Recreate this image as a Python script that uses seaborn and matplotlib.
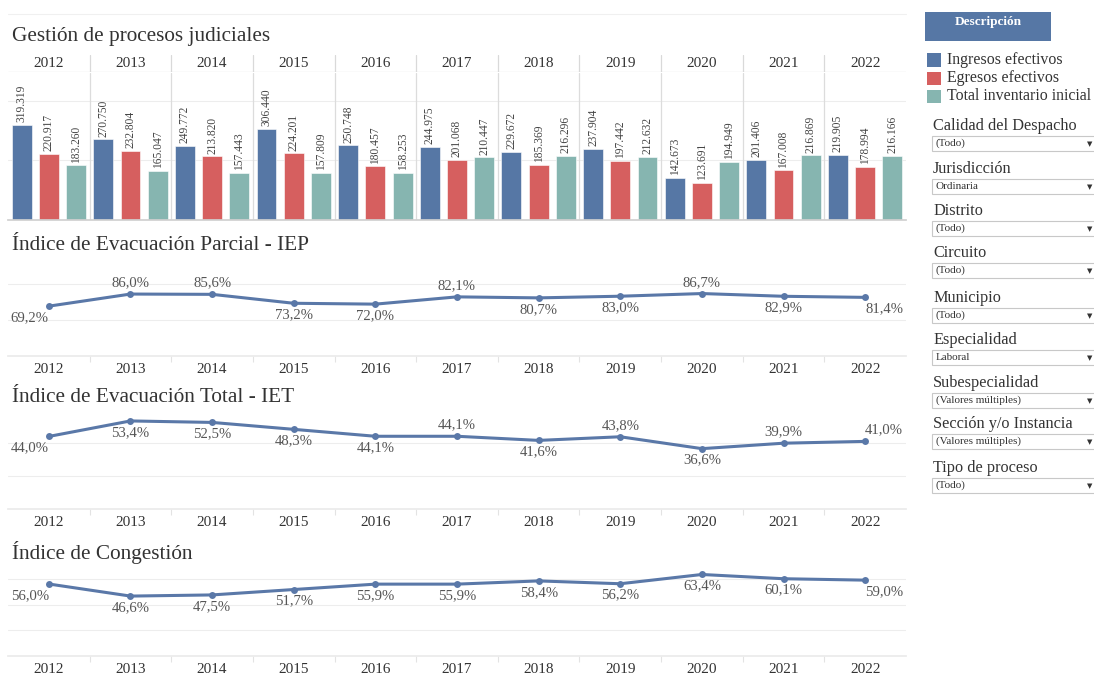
import numpy as np
import pandas as pd
import matplotlib
matplotlib.use('Agg')
import matplotlib.pyplot as plt
from matplotlib.patches import Rectangle
import seaborn as sns

anios = [2012, 2013, 2014, 2015, 2016, 2017, 2018, 2019, 2020, 2021, 2022]
series = ['Ingresos efectivos', 'Egresos efectivos', 'Total inventario inicial']
ingresos = [319319, 270750, 249772, 306440, 250748, 244975, 229672, 237904, 142673, 201406, 219905]
egresos = [220917, 232804, 213820, 224201, 180457, 201068, 185369, 197442, 123691, 167008, 178994]
inventario = [183260, 165047, 157443, 157809, 158253, 210447, 216296, 212632, 194949, 216869, 216166]

iep = [69.2, 86.0, 85.6, 73.2, 72.0, 82.1, 80.7, 83.0, 86.7, 82.9, 81.4]
iet = [44.0, 53.4, 52.5, 48.3, 44.1, 44.1, 41.6, 43.8, 36.6, 39.9, 41.0]
ic = [56.0, 46.6, 47.5, 51.7, 55.9, 55.9, 58.4, 56.2, 63.4, 60.1, 59.0]

# ubicacion de etiquetas: 'a' arriba, 'b' abajo
iep_pos = ['b', 'a', 'a', 'b', 'b', 'a', 'b', 'b', 'a', 'b', 'b']
iet_pos = ['b', 'b', 'b', 'b', 'b', 'a', 'b', 'a', 'b', 'a', 'a']
ic_pos = ['b'] * 11

filtros = ['Calidad del Despacho', 'Jurisdicción', 'Distrito', 'Circuito', 'Municipio',
           'Especialidad', 'Subespecialidad', 'Sección y/o Instancia', 'Tipo de proceso']
filtros_valor = ['(Todo)', 'Ordinaria', '(Todo)', '(Todo)', '(Todo)',
                 'Laboral', '(Valores múltiples)', '(Valores múltiples)', '(Todo)']

colores = ['#5677a5', '#d65f5f', '#86b5b0']
color_linea = '#5a78a8'
gris_txt = '#333333'
gris_lbl = '#555555'
gris_grid = '#ededed'

sns.set_theme(style='white')
plt.rcParams['font.family'] = ['Liberation Serif', 'DejaVu Serif']

W, H = 1094, 677
fig = plt.figure(figsize=(W / 100, H / 100), dpi=100)


def fx(px):
    return px / W


def fy(py):
    return 1 - py / H


def axes_px(x0, y0, x1, y1):
    return fig.add_axes([fx(x0), fy(y1), fx(x1) - fx(x0), (y1 - y0) / H])


def miles(v):
    return f'{v:,}'.replace(',', '.')


def pct(v):
    return f'{v:.1f}%'.replace('.', ',')


X0, X1 = 8, 906

# linea tenue superior
fig.add_artist(plt.Line2D([fx(X0), fx(X1)], [fy(14), fy(14)], color='#f0f0f0', lw=0.8))

# ---- Gestion de procesos judiciales (barras) ----
fig.text(fx(12), fy(37), 'Gestión de procesos judiciales', fontsize=15.3,
         color=gris_txt, va='center', ha='left')

hdr = axes_px(X0, 55, X1, 72)
hdr.set_xlim(-0.5, len(anios) - 0.5)
hdr.set_ylim(0, 1)
hdr.axis('off')
for i, a in enumerate(anios):
    hdr.text(i, 0.5, str(a), ha='center', va='center', fontsize=11, color=gris_txt)
for i in range(1, len(anios)):
    hdr.axvline(i - 0.5, color='#d9d9d9', lw=0.9)
hdr.axhline(0, color='#d9d9d9', lw=0.9)

df = pd.DataFrame({
    'anio': anios * 3,
    'serie': [series[0]] * 11 + [series[1]] * 11 + [series[2]] * 11,
    'valor': ingresos + egresos + inventario,
})
ax = axes_px(X0, 73, X1, 220)
sns.barplot(data=df, x='anio', y='valor', hue='serie', hue_order=series,
            palette=colores, saturation=1, width=1.0, gap=0.27, ax=ax, legend=False,
            edgecolor='white', linewidth=0.4)
ax.set_ylim(0, 494000)
ax.set_xlim(-0.5, len(anios) - 0.5)
for yv in [200000, 400000]:
    ax.axhline(yv, color=gris_grid, lw=0.8, zorder=0)
for i in range(1, len(anios)):
    ax.axvline(i - 0.5, color='#dcdcdc', lw=0.9, zorder=0)
for cont in ax.containers:
    ax.bar_label(cont, labels=[miles(int(b.get_height())) for b in cont],
                 rotation=90, padding=2, fontsize=8.3, color='#444444')
ax.set_xlabel('')
ax.set_ylabel('')
ax.set_xticks([])
ax.set_yticks([])
for s in ['top', 'right', 'left']:
    ax.spines[s].set_visible(False)
ax.spines['bottom'].set_color('#d0d0d0')


# ---- Indices (lineas) ----
def panel_linea(titulo, y_titulo, y0, y1, vals, pos, ymax, grids):
    fig.text(fx(12), fy(y_titulo), titulo, fontsize=15.3, color=gris_txt,
             va='center', ha='left')
    axl = axes_px(X0, y0, X1, y1)
    sns.lineplot(x=anios, y=vals, ax=axl, color=color_linea, lw=2.2,
                 marker='o', markersize=5, markeredgewidth=0)
    axl.set_xlim(anios[0] - 0.5, anios[-1] + 0.5)
    axl.set_ylim(0, ymax)
    for g in grids:
        axl.axhline(g, color=gris_grid, lw=0.8, zorder=0)
    for i, (a, v, p) in enumerate(zip(anios, vals, pos)):
        ha = 'center'
        if i == 0:
            ha = 'right'
        elif i == len(anios) - 1:
            ha = 'left'
        dy = 3.5 if p == 'a' else -3.5
        axl.annotate(pct(v), (a, v), xytext=(0, dy), textcoords='offset points',
                     ha=ha, va='bottom' if p == 'a' else 'top',
                     fontsize=10.6, color=gris_lbl)
    axl.set_xticks(anios)
    axl.set_xticklabels([str(a) for a in anios], fontsize=11, color=gris_txt)
    axl.set_xticks([a + 0.5 for a in anios[:-1]], minor=True)
    axl.tick_params(axis='x', which='major', length=0, pad=5)
    axl.tick_params(axis='x', which='minor', length=4, color='#e3e3e3', width=0.8,
                    bottom=True)
    axl.set_yticks([])
    axl.set_xlabel('')
    axl.set_ylabel('')
    for s in ['top', 'right', 'left']:
        axl.spines[s].set_visible(False)
    axl.spines['bottom'].set_color('#ebebeb')
    return axl


panel_linea('Índice de Evacuación Parcial - IEP', 245, 262, 356, iep, iep_pos, 130.5, [50, 100])
panel_linea('Índice de Evacuación Total - IET', 398, 415, 509, iet, iet_pos, 57, [20, 40])
panel_linea('Índice de Congestión', 552, 566, 656, ic, ic_pos, 70, [20, 40, 60])

# ---- Panel derecho ----
fig.patches.append(Rectangle((fx(925), fy(41)), fx(1051) - fx(925), (41 - 12) / H,
                             transform=fig.transFigure, facecolor='#5677a5',
                             edgecolor='none'))
fig.text(fx(988), fy(22), 'Descripción', color='white', fontsize=9.5,
         fontweight='bold', ha='center', va='center')
for i, (s, c) in enumerate(zip(series, colores)):
    yc = 60 + i * 18
    fig.patches.append(Rectangle((fx(927), fy(yc + 6.5)), fx(941) - fx(927), 13 / H,
                                 transform=fig.transFigure, facecolor=c,
                                 edgecolor='none'))
    fig.text(fx(947), fy(yc), s, fontsize=11.4, color=gris_txt, ha='left', va='center')

label_y = [126, 169, 211, 253, 298, 340, 383, 424, 468]
for nombre, valor, ly in zip(filtros, filtros_valor, label_y):
    fig.text(fx(933), fy(ly), nombre, fontsize=11.7, color=gris_txt, ha='left',
             va='center')
    top = ly + 10
    fig.patches.append(Rectangle((fx(932), fy(top + 15)), fx(1100) - fx(932), 15 / H,
                                 transform=fig.transFigure, facecolor='white',
                                 edgecolor='#c8c8c8', lw=0.8))
    fig.text(fx(936), fy(top + 7.5), valor, fontsize=8, color=gris_txt,
             ha='left', va='center')
    fig.text(fx(1090), fy(top + 8), '▼', fontsize=5, color='#333333',
             ha='center', va='center', family='DejaVu Sans')

fig.savefig('out.png', dpi=100)
